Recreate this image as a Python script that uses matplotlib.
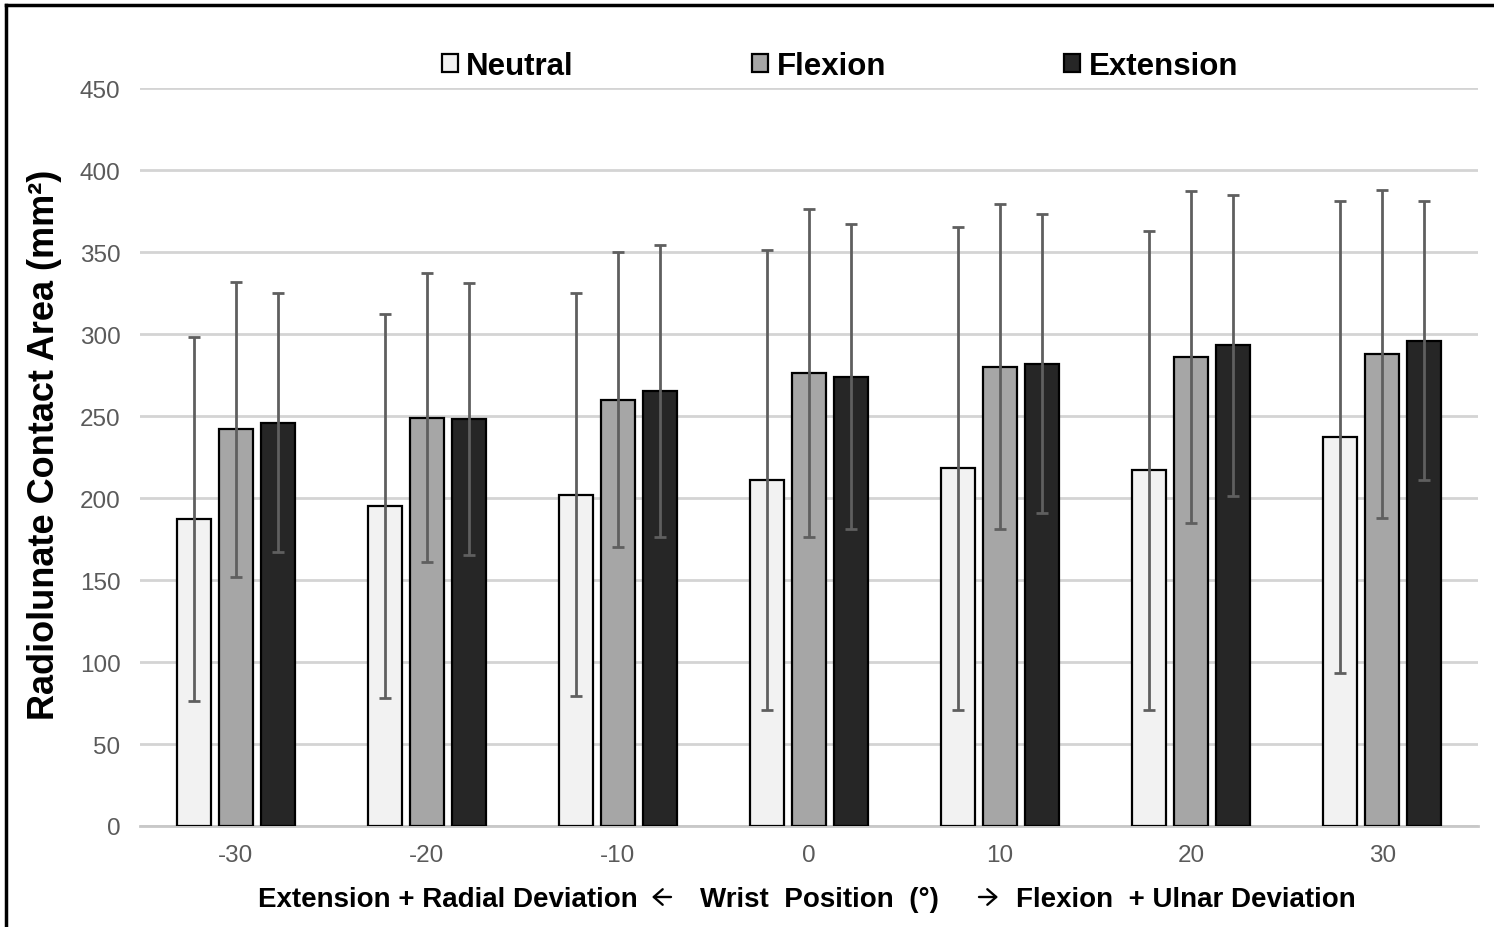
import matplotlib
matplotlib.use("Agg")
import matplotlib.pyplot as plt
from matplotlib.lines import Line2D
from matplotlib.patches import FancyArrowPatch
import numpy as np

plt.rcParams['font.family'] = ['Liberation Sans', 'DejaVu Sans']

# Wrist positions (degrees) and radiolunate contact area (mm^2), mean and SD
positions = ["-30", "-20", "-10", "0", "10", "20", "30"]
series_names = ["Neutral", "Flexion", "Extension"]
neutral_mean = [187, 195, 202, 211, 218, 217, 237]
neutral_sd = [111, 117, 123, 140, 147, 146, 144]
flexion_mean = [242, 249, 260, 276, 280, 286, 288]
flexion_sd = [90, 88, 90, 100, 99, 101, 100]
extension_mean = [246, 248, 265, 274, 282, 293, 296]
extension_sd = [79, 83, 89, 93, 91, 92, 85]
yticks = [0, 50, 100, 150, 200, 250, 300, 350, 400, 450]

means = [neutral_mean, flexion_mean, extension_mean]
sds = [neutral_sd, flexion_sd, extension_sd]
colors = ["#f2f2f2", "#a6a6a6", "#262626"]

W, H = 1494, 928
fig = plt.figure(figsize=(W / 100, H / 100), dpi=100)
ax = fig.add_axes([140 / W, 1 - 827 / H, (1478 - 140) / W, (827 - 89) / H])

x = np.arange(len(positions))
bar_w = 0.178
offset = 0.22
for i, (m, s, c, name) in enumerate(zip(means, sds, colors, series_names)):
    xi = x + (i - 1) * offset
    ax.bar(xi, m, width=bar_w, color=c, edgecolor="black", linewidth=1.6,
           label=name, zorder=3)
    ax.errorbar(xi, m, yerr=s, fmt="none", ecolor="#5f5f5f", elinewidth=2,
                capsize=4.3, capthick=2, zorder=4)

ax.set_xlim(-0.5, len(positions) - 0.5)
ax.set_ylim(0, 450)
ax.set_yticks(yticks)
ax.set_xticks(x)
ax.set_xticklabels(positions)
ax.grid(axis="y", color="#d4d4d4", linewidth=2, zorder=0)
ax.set_axisbelow(True)
for side in ["top", "right", "left"]:
    ax.spines[side].set_visible(False)
ax.spines["bottom"].set_color("#c8c8c8")
ax.spines["bottom"].set_linewidth(2)
ax.tick_params(axis="both", length=0, labelsize=17.5, labelcolor="#5a5a5a")
ax.tick_params(axis="y", pad=14)
ax.tick_params(axis="x", pad=13)

ax.set_ylabel("Radiolunate Contact Area (mm²)", fontsize=26, fontweight="bold")
ax.yaxis.set_label_coords(-0.0583, 0.5176)


def px(xp, yp):
    """Figure-pixel position (from top-left) to figure fraction."""
    return xp / W, 1 - yp / H


# Axis title for wrist position, split around two drawn arrows
base_y = 907
title_kw = dict(fontsize=20, fontweight="bold", va="baseline", color="black")
fig.text(*px(258, base_y), "Extension + Radial Deviation", ha="left", **title_kw)
fig.text(*px(700, base_y), "Wrist  Position  (°)", ha="left", **title_kw)
fig.text(*px(1016, base_y), "Flexion  + Ulnar Deviation", ha="left", **title_kw)

arrow_y = base_y - 9
arrow_kw = dict(transform=fig.transFigure, arrowstyle="->,head_length=0.32,head_width=0.28",
                mutation_scale=20, lw=1.7, color="black", shrinkA=0, shrinkB=0)
fig.add_artist(FancyArrowPatch(px(671, arrow_y), px(652, arrow_y), **arrow_kw))
fig.add_artist(FancyArrowPatch(px(979, arrow_y), px(998, arrow_y), **arrow_kw))

leg = fig.legend(loc="center", bbox_to_anchor=(840 / W, 1 - 67 / H), ncol=3,
                 frameon=False, handlelength=0.5, handleheight=0.5,
                 handletextpad=0.28, columnspacing=5.7,
                 prop={"weight": "bold", "size": 22.5})

# Frame lines along the top and left edges of the figure
fig.add_artist(Line2D([6 / W, 1.0], [1 - 6 / H, 1 - 6 / H], color="black",
                      linewidth=2.5, transform=fig.transFigure))
fig.add_artist(Line2D([6 / W, 6 / W], [0, 1 - 6 / H], color="black",
                      linewidth=2.5, transform=fig.transFigure))

fig.savefig("out.png", dpi=100, facecolor="white")
